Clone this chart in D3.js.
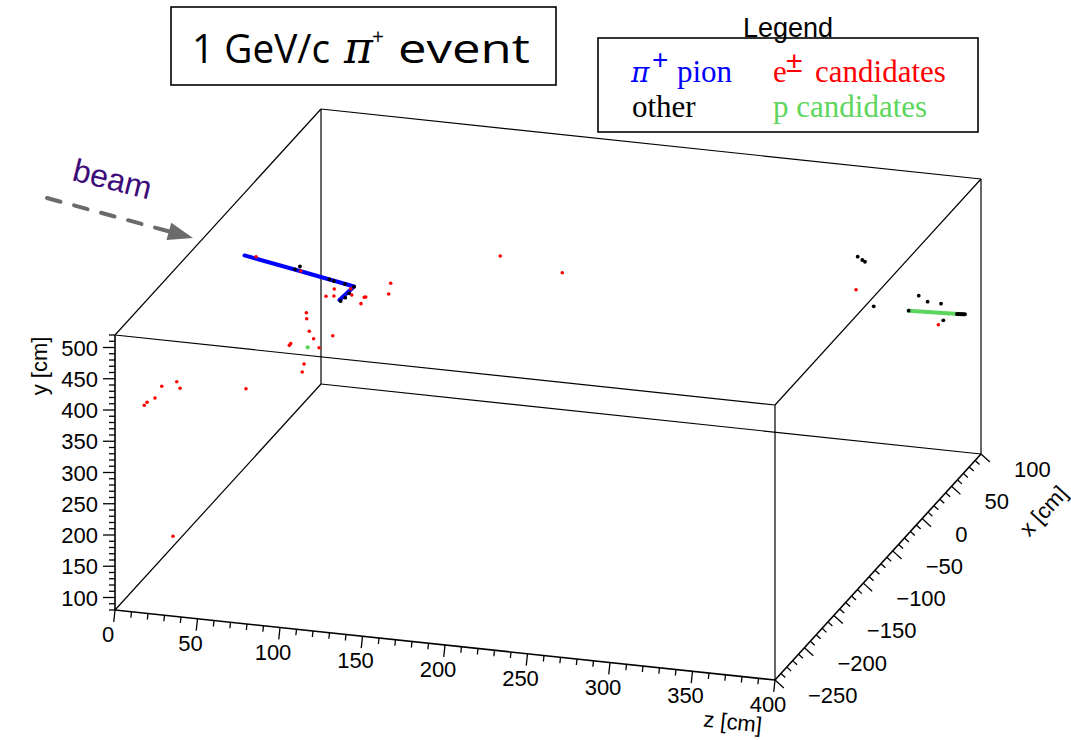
<!DOCTYPE html>
<html>
<head>
<meta charset="utf-8">
<script src="https://cdn.jsdelivr.net/npm/d3@7"></script>
<style>
  html, body { margin: 0; padding: 0; background: #fff; }
  svg { display: block; }
</style>
</head>
<body>
<svg id="chart" width="1071" height="740"></svg>
<script>
// ---------------- data (z, x, y in cm) ----------------
const zDomain = [0, 400];
const xDomain = [-250, 100];
const yDomain = [80, 520];

const zTickLabels = [0, 50, 100, 150, 200, 250, 300, 350, 400];
const xTickLabels = [100, 50, 0, -50, -100, -150, -200, -250];
const yTickLabels = [100, 150, 200, 250, 300, 350, 400, 450, 500];

// pi+ track (blue)
const pionTrack = [[0, -30, 420], [33.6, -30, 404.5], [66.4, -30, 388.9], [57.6, -30, 364.8]];

// other hits (black)
const otherHits = [
  [30.6, -30, 406.4], [33.6, -30, 411.7], [51.4, -30, 396.2], [54.2, -30, 394.3],
  [60.9, -30, 391.4], [66.4, -30, 388.6], [63.5, -30, 377.2], [61.1, -30, 369.5],
  [58.3, -30, 363.4],
  [332.4, 80, 397.4], [335.2, 80, 392.9], [336.8, 80, 390.6], [342.1, 80, 320.8],
  [369.4, 80, 345.4], [374.8, 80, 337.3], [382.9, 80, 336.4], [384.3, 80, 310.2],
  [363.3, 80, 319.7]
];
// heavy ionisation end of the proton track (black)
const otherTrack = [[392.6, 80, 322.6], [397.4, 80, 323.5]];

// e+- candidates (red)
const electronHits = [
  [7.0, -30, 419.9], [34.1, -30, 404.6], [88.6, -30, 400.2], [87.4, -30, 382.8],
  [54.4, -30, 381.5], [49.4, -30, 368.5], [54.2, -30, 370.3], [64.4, -30, 384.8],
  [65.0, -30, 374.9], [73.5, -30, 374.1], [72.6, -30, 373.4], [70.6, -30, 362.6],
  [37.5, -30, 338.9], [37.7, -30, 329.3], [39.3, -30, 309.6], [41.9, -30, 298.5],
  [53.5, -30, 306.6], [28.0, -30, 286.9], [27.2, -30, 283.8], [45.2, -30, 285.0],
  [36.1, -30, 256.4], [35.0, -30, 243.3], [0.9, -30, 207.0],
  [10.6, -230, 389.8], [12.3, -230, 395.1], [17.1, -230, 403.3], [21.2, -230, 423.2],
  [30.3, -230, 433.1], [32.3, -230, 423.1], [28.0, -230, 185.1],
  [144.3, 0, 428.5], [181.9, 0, 412.3],
  [331.4, 80, 344.3], [381.3, 80, 302.3]
];

// p candidates (green)
const protonHits = [[38.3, -30, 283.7]];
const protonTrack = [[363.3, 80, 319.7], [393.4, 80, 322.8]];

// ---------------- projection ----------------
const svg = d3.select("#chart");
const O = [115, 610];           // (z=0, x=-250, y=80)
const EZ = [660, 70];           // full z extent on screen
const EX = [206, -226];         // full x extent on screen
const EY = [0, -275];           // full y extent on screen

const sZ = d3.scaleLinear().domain(zDomain).range([0, 1]);
const sX = d3.scaleLinear().domain(xDomain).range([0, 1]);
const sY = d3.scaleLinear().domain(yDomain).range([0, 1]);

function proj(z, x, y) {
  const a = sZ(z), b = sX(x), c = sY(y);
  return [O[0] + EZ[0] * a + EX[0] * b + EY[0] * c,
          O[1] + EZ[1] * a + EX[1] * b + EY[1] * c];
}
const P = d => proj(d[0], d[1], d[2]);

const FONT = "'Liberation Sans', Arial, Helvetica, sans-serif";
const SERIF = "'Liberation Serif', 'Times New Roman', serif";
const MATH = "'DejaVu Serif', 'Liberation Serif', serif";

// ---------------- box ----------------
const [z0, z1] = zDomain, [x0, x1] = xDomain, [y0, y1] = yDomain;
const edges = [
  [[z0, x0, y0], [z1, x0, y0], 1.6],
  [[z1, x0, y0], [z1, x1, y0], 1.6],
  [[z0, x0, y0], [z0, x0, y1], 1.6],
  [[z0, x0, y0], [z0, x1, y0], 1.2],
  [[z0, x1, y0], [z1, x1, y0], 1.2],
  [[z0, x1, y0], [z0, x1, y1], 1.2],
  [[z1, x1, y0], [z1, x1, y1], 1.2],
  [[z1, x0, y0], [z1, x0, y1], 1.2],
  [[z0, x0, y1], [z1, x0, y1], 1.2],
  [[z0, x0, y1], [z0, x1, y1], 1.2],
  [[z0, x1, y1], [z1, x1, y1], 1.2],
  [[z1, x0, y1], [z1, x1, y1], 1.2]
];
svg.append("g").selectAll("line").data(edges).join("line")
  .attr("x1", d => P(d[0])[0]).attr("y1", d => P(d[0])[1])
  .attr("x2", d => P(d[1])[0]).attr("y2", d => P(d[1])[1])
  .attr("stroke", "#000").attr("stroke-width", d => d[2]);

// ---------------- ticks ----------------
function norm(v) { const l = Math.hypot(v[0], v[1]); return [v[0] / l, v[1] / l]; }
const zDir = norm([-EZ[1], EZ[0]]);       // perpendicular, pointing down
const xDir = norm([-EX[1], EX[0]]);       // perpendicular, pointing right-down
const yDir = [-1, 0];

function drawTicks(values, majors, posFn, dir) {
  const g = svg.append("g");
  g.selectAll("line").data(values).join("line")
    .attr("x1", v => posFn(v)[0]).attr("y1", v => posFn(v)[1])
    .attr("x2", v => posFn(v)[0] + dir[0] * (majors.includes(v) ? 12 : 6))
    .attr("y2", v => posFn(v)[1] + dir[1] * (majors.includes(v) ? 12 : 6))
    .attr("stroke", "#000").attr("stroke-width", 1.3);
}
const fmt = v => (v < 0 ? "\u2212" + Math.abs(v) : String(v));

const zPos = v => proj(v, x0, y0);
const xPos = v => proj(z1, v, y0);
const yPos = v => proj(z0, x0, v);

drawTicks(d3.range(z0, z1 + 0.1, 10), zTickLabels, zPos, zDir);
drawTicks(d3.range(x0, x1 + 0.1, 10), xTickLabels, xPos, xDir);
drawTicks(d3.range(y0, y1 + 0.1, 10), yTickLabels, yPos, yDir);

svg.append("g").selectAll("text").data(zTickLabels).join("text")
  .attr("x", v => zPos(v)[0] - 7).attr("y", v => zPos(v)[1] + 32)
  .attr("text-anchor", "middle").attr("font-family", FONT).attr("font-size", 22)
  .text(fmt);
svg.append("g").selectAll("text").data(xTickLabels).join("text")
  .attr("x", v => xPos(v)[0] + 33).attr("y", v => xPos(v)[1] + 23)
  .attr("text-anchor", "start").attr("font-family", FONT).attr("font-size", 22)
  .text(fmt);
svg.append("g").selectAll("text").data(yTickLabels).join("text")
  .attr("x", v => yPos(v)[0] - 17).attr("y", v => yPos(v)[1] + 8)
  .attr("text-anchor", "end").attr("font-family", FONT).attr("font-size", 22)
  .text(fmt);

// axis titles
svg.append("text").attr("transform", "translate(732,729.5) rotate(6)")
  .attr("text-anchor", "middle").attr("font-family", FONT).attr("font-size", 22).text("z [cm]");
svg.append("text").attr("transform", "translate(1049,516) rotate(-47.6)")
  .attr("text-anchor", "middle").attr("font-family", FONT).attr("font-size", 22).text("x [cm]");
svg.append("text").attr("transform", "translate(47,366) rotate(-90)")
  .attr("text-anchor", "middle").attr("font-family", FONT).attr("font-size", 22).text("y [cm]");

// ---------------- event ----------------
const line = d3.line().x(d => P(d)[0]).y(d => P(d)[1]);
svg.append("path").datum(pionTrack).attr("d", line)
  .attr("fill", "none").attr("stroke", "#0000ff").attr("stroke-width", 4)
  .attr("stroke-linecap", "round").attr("stroke-linejoin", "round");
svg.append("path").datum(protonTrack).attr("d", line)
  .attr("fill", "none").attr("stroke", "#5cd65c").attr("stroke-width", 4)
  .attr("stroke-linecap", "round");
svg.append("path").datum(otherTrack).attr("d", line)
  .attr("fill", "none").attr("stroke", "#000").attr("stroke-width", 4)
  .attr("stroke-linecap", "round");

function dots(data, color, r) {
  svg.append("g").selectAll("circle").data(data).join("circle")
    .attr("cx", d => P(d)[0]).attr("cy", d => P(d)[1]).attr("r", r).attr("fill", color);
}
dots(otherHits, "#000", 1.9);
dots(electronHits, "#ff0000", 1.8);
dots(protonHits, "#5cd65c", 2.1);

// ---------------- beam arrow ----------------
const beamStart = [47, 198], beamTip = [193, 238];
const ang = Math.atan2(beamTip[1] - beamStart[1], beamTip[0] - beamStart[0]);
const headLen = 25, headW = 9;
const base = [beamTip[0] - headLen * Math.cos(ang), beamTip[1] - headLen * Math.sin(ang)];
svg.append("line")
  .attr("x1", beamStart[0]).attr("y1", beamStart[1])
  .attr("x2", base[0] + 2 * Math.cos(ang)).attr("y2", base[1] + 2 * Math.sin(ang))
  .attr("stroke", "#6b6b6b").attr("stroke-width", 4)
  .attr("stroke-dasharray", "14,14").attr("stroke-linecap", "round");
svg.append("path")
  .attr("d", `M${beamTip[0]},${beamTip[1]}` +
    `L${base[0] - headW * Math.sin(ang)},${base[1] + headW * Math.cos(ang)}` +
    `L${base[0] + headW * Math.sin(ang)},${base[1] - headW * Math.cos(ang)}Z`)
  .attr("fill", "#6b6b6b");
svg.append("text").attr("transform", "translate(71,180) rotate(14)")
  .attr("font-family", FONT).attr("font-size", 32).attr("fill", "#3c0c78").text("beam");

// ---------------- title ----------------
const TFONT = "'Open Sans', 'Noto Sans', sans-serif";
svg.append("rect").attr("x", 171).attr("y", 7).attr("width", 385).attr("height", 78)
  .attr("fill", "none").attr("stroke", "#000").attr("stroke-width", 1.6);
svg.append("text").attr("x", 192).attr("y", 63).attr("font-family", TFONT)
  .attr("font-size", 41).attr("textLength", 138).attr("lengthAdjust", "spacingAndGlyphs").text("1 GeV/c");
svg.append("text").attr("x", 344).attr("y", 63).attr("font-family", MATH).attr("font-style", "italic")
  .attr("font-size", 44).text("\u03c0");
svg.append("text").attr("x", 372).attr("y", 44).attr("font-family", TFONT)
  .attr("font-size", 21).text("+");
svg.append("text").attr("x", 398).attr("y", 63).attr("font-family", TFONT)
  .attr("font-size", 41).attr("textLength", 132).attr("lengthAdjust", "spacingAndGlyphs").text("event");

// ---------------- legend ----------------
svg.append("rect").attr("x", 598).attr("y", 38).attr("width", 380).attr("height", 94)
  .attr("fill", "#fff").attr("stroke", "#000").attr("stroke-width", 1.6);
svg.append("text").attr("x", 788).attr("y", 36.5).attr("text-anchor", "middle")
  .attr("font-family", FONT).attr("font-size", 27).text("Legend");

const leg = svg.append("g").attr("font-family", SERIF).attr("font-size", 31);
leg.append("text").attr("x", 631).attr("y", 82).attr("font-family", MATH).attr("font-style", "italic")
  .attr("font-size", 28).attr("fill", "#0000ff").text("\u03c0");
leg.append("text").attr("x", 652).attr("y", 69).attr("font-family", FONT).attr("font-size", 28).attr("fill", "#0000ff").text("+");
leg.append("text").attr("x", 677).attr("y", 82).attr("fill", "#0000ff").text("pion");
leg.append("text").attr("x", 773).attr("y", 82).attr("fill", "#ff0000").text("e");
leg.append("text").attr("x", 786).attr("y", 72).attr("font-family", FONT).attr("font-size", 30).attr("fill", "#ff0000").text("\u00b1");
leg.append("text").attr("x", 815).attr("y", 82).attr("fill", "#ff0000").text("candidates");
leg.append("text").attr("x", 632).attr("y", 117).attr("fill", "#000").text("other");
leg.append("text").attr("x", 773).attr("y", 117).attr("fill", "#5cd65c").text("p candidates");
</script>
</body>
</html>
